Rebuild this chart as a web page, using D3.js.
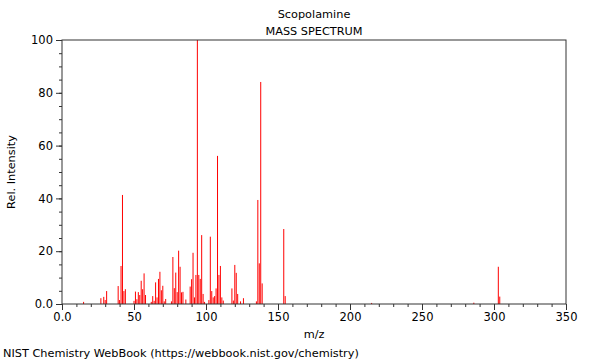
<!DOCTYPE html>
<html>
<head>
<meta charset="utf-8">
<script src="https://cdn.jsdelivr.net/npm/d3@7"></script>
<style>
  html, body { margin: 0; padding: 0; background: #fff; }
  text { font-family: "DejaVu Sans", sans-serif; fill: #000; }
</style>
</head>
<body>
<svg id="chart" width="600" height="360"></svg>
<script>
const titleLines = ["Scopolamine", "MASS SPECTRUM"];
const xLabel = "m/z";
const yLabel = "Rel. Intensity";
const footer = "NIST Chemistry WebBook (https://webbook.nist.gov/chemistry)";

const mz = [15, 27, 29, 30, 31, 39, 40, 41, 42, 43, 44, 50, 51, 52, 53, 54, 55, 56, 57, 58,
  62, 63, 64, 65, 66, 67, 68, 69, 70, 71, 72, 76, 77, 78, 79, 80, 81, 82, 83, 84, 86,
  89, 90, 91, 92, 93, 94, 95, 96, 97, 98, 99, 102, 103, 104, 105, 106, 107, 108, 109, 110,
  111, 112, 118, 119, 120, 121, 122, 124, 126, 135, 136, 137, 138, 139, 154, 155, 215, 286, 303, 304];
const intensity = [0.8, 2.2, 2.7, 1.5, 4.9, 6.8, 1.5, 14.4, 41.3, 4.9, 5.6, 1.2, 4.7, 1.8, 4.5, 3.4, 8.8, 5.6, 11.6, 3.4,
  0.8, 3.0, 1.2, 8.2, 2.5, 9.5, 12.2, 5.2, 6.9, 1.0, 1.9, 1.0, 17.8, 6.0, 11.9, 4.5, 20.2, 14.1, 4.4, 4.6, 1.7,
  6.6, 9.4, 19.4, 2.5, 11.0, 100, 11.0, 9.5, 26.1, 3.8, 0.8, 1.5, 25.5, 4.9, 2.5, 3.0, 5.9, 56.1, 11.0, 14.4,
  2.5, 1.3, 5.9, 1.3, 14.8, 11.8, 3.8, 1.0, 2.2, 1.0, 39.4, 15.4, 84.1, 7.8, 28.4, 3.0, 0.4, 0.5, 14.1, 2.8];

const xMajor = [0, 50, 100, 150, 200, 250, 300, 350];
const xMajorLabels = ["0.0", "50", "100", "150", "200", "250", "300", "350"];
const yMajor = [0, 20, 40, 60, 80, 100];
const yMajorLabels = ["0.0", "20", "40", "60", "80", "100"];

const W = 600, H = 360;
const margin = { left: 62, right: 34, top: 40, bottom: 56 };
const svg = d3.select("#chart");

const x = d3.scaleLinear().domain([0, 350]).range([margin.left, W - margin.right]);
const y = d3.scaleLinear().domain([0, 100]).range([H - margin.bottom, margin.top]);

const axisColor = "#333";

// bars
const peaks = mz.map((m, i) => ({ m, v: intensity[i] }));
svg.append("g").selectAll("line").data(peaks).join("line")
  .attr("x1", d => x(d.m)).attr("x2", d => x(d.m))
  .attr("y1", y(0)).attr("y2", d => y(d.v))
  .attr("stroke", "#ff0000").attr("stroke-width", 1);

// frame
svg.append("rect")
  .attr("x", x(0)).attr("y", y(100))
  .attr("width", x(350) - x(0)).attr("height", y(0) - y(100))
  .attr("fill", "none").attr("stroke", axisColor).attr("stroke-width", 1);

// x axis minor
const xAxisMinor = d3.axisBottom(x).tickValues(d3.range(0, 351, 10)).tickSize(3).tickFormat("");
svg.append("g").attr("transform", `translate(0,${y(0)})`).call(xAxisMinor)
  .call(g => g.select(".domain").remove())
  .call(g => g.selectAll("line").attr("stroke", axisColor));
// x axis major
const xAxis = d3.axisBottom(x).tickValues(xMajor).tickSize(6).tickPadding(3)
  .tickFormat((d, i) => xMajorLabels[i]);
svg.append("g").attr("transform", `translate(0,${y(0)})`).call(xAxis)
  .call(g => g.select(".domain").remove())
  .call(g => g.selectAll("line").attr("stroke", axisColor))
  .call(g => g.selectAll("text").attr("font-size", 11.5).attr("font-family", "DejaVu Sans"));

// y axis minor
const yAxisMinor = d3.axisLeft(y).tickValues(d3.range(0, 101, 5)).tickSize(3).tickFormat("");
svg.append("g").attr("transform", `translate(${x(0)},0)`).call(yAxisMinor)
  .call(g => g.select(".domain").remove())
  .call(g => g.selectAll("line").attr("stroke", axisColor));
// y axis major
const yAxis = d3.axisLeft(y).tickValues(yMajor).tickSize(6).tickPadding(3)
  .tickFormat((d, i) => yMajorLabels[i]);
svg.append("g").attr("transform", `translate(${x(0)},0)`).call(yAxis)
  .call(g => g.select(".domain").remove())
  .call(g => g.selectAll("line").attr("stroke", axisColor))
  .call(g => g.selectAll("text").attr("font-size", 11.5).attr("font-family", "DejaVu Sans"));

const cx = (x(0) + x(350)) / 2;
svg.append("text").attr("x", cx).attr("y", 18).attr("text-anchor", "middle")
  .attr("font-size", 11.3).text(titleLines[0]);
svg.append("text").attr("x", cx).attr("y", 35).attr("text-anchor", "middle")
  .attr("font-size", 11.3).text(titleLines[1]);
svg.append("text").attr("x", cx).attr("y", 338).attr("text-anchor", "middle")
  .attr("font-size", 11.3).text(xLabel);
svg.append("text").attr("transform", `translate(15,${(y(0) + y(100)) / 2}) rotate(-90)`)
  .attr("text-anchor", "middle").attr("font-size", 11.3).text(yLabel);
svg.append("text").attr("x", 3).attr("y", 357).attr("font-size", 11.3).text(footer);
</script>
</body>
</html>
